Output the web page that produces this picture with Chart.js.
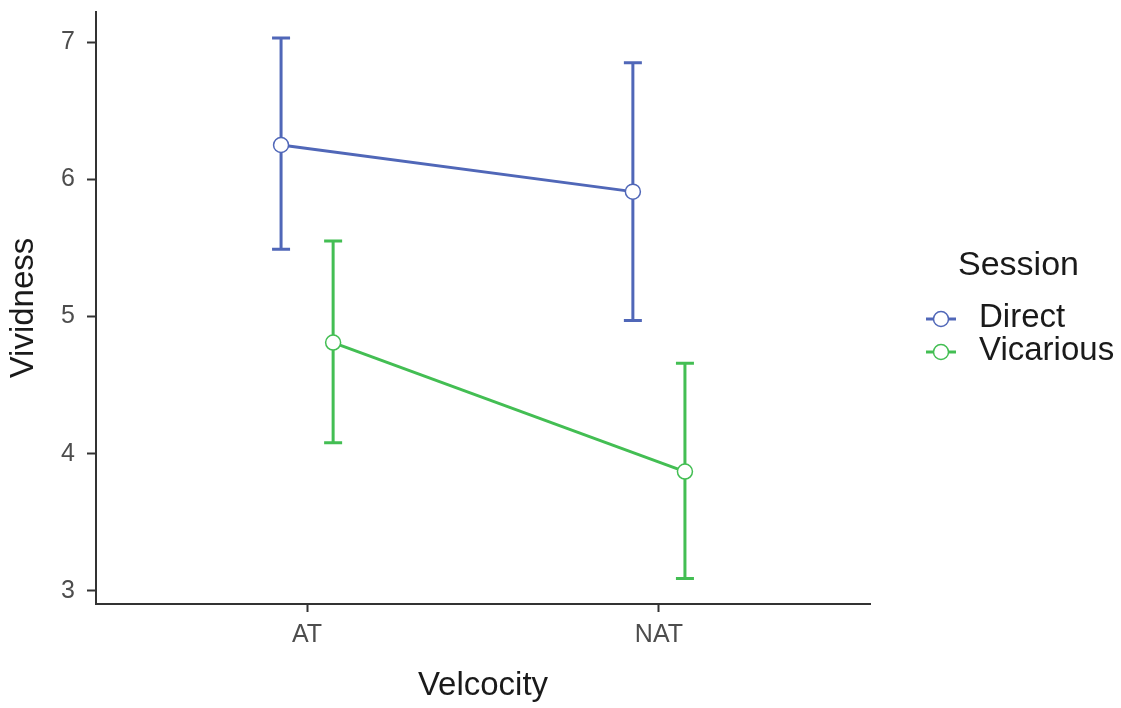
<!DOCTYPE html>
<html>
<head>
<meta charset="utf-8">
<script src="https://cdn.jsdelivr.net/npm/chart.js@4.4.1/dist/chart.umd.min.js"></script>
<style>
  html, body { margin: 0; padding: 0; background: #fff; }
</style>
</head>
<body>
<canvas id="chart" width="1121" height="708"></canvas>
<script>
// data
var categories = ['AT', 'NAT'];
var sessions = ['Direct', 'Vicarious'];
var directMean = [6.25, 5.91];
var directLow = [5.49, 4.97];
var directHigh = [7.03, 6.85];
var vicariousMean = [4.81, 3.87];
var vicariousLow = [4.08, 3.09];
var vicariousHigh = [5.55, 4.66];
var yTicks = [3, 4, 5, 6, 7];

var dodge = [-0.074, 0.074];
var colors = ['#5067b8', '#43be53'];
var axisColor = '#333333';
var font = '"Liberation Sans", Arial, sans-serif';

function points(mean, low, high, s) {
    return mean.map(function(m, i) {
        return { x: i + 1 + dodge[s], y: m, low: low[i], high: high[i] };
    });
}

var seriesData = [
    points(directMean, directLow, directHigh, 0),
    points(vicariousMean, vicariousLow, vicariousHigh, 1)
];

var errorBars = {
    id: 'errorBars',
    beforeDatasetsDraw: function(chart) {
        var ctx = chart.ctx, xs = chart.scales.x, ys = chart.scales.y;
        chart.data.datasets.forEach(function(ds) {
            ctx.save();
            ctx.strokeStyle = ds.borderColor;
            ctx.lineWidth = 3;
            ds.data.forEach(function(p) {
                var px = xs.getPixelForValue(p.x);
                var y1 = ys.getPixelForValue(p.low);
                var y2 = ys.getPixelForValue(p.high);
                ctx.beginPath();
                ctx.moveTo(px, y1); ctx.lineTo(px, y2);
                ctx.moveTo(px - 9, y1); ctx.lineTo(px + 9, y1);
                ctx.moveTo(px - 9, y2); ctx.lineTo(px + 9, y2);
                ctx.stroke();
            });
            ctx.restore();
        });
    }
};

var sideLegend = {
    id: 'sideLegend',
    afterDraw: function(chart) {
        var ctx = chart.ctx;
        ctx.save();
        ctx.fillStyle = '#1a1a1a';
        ctx.textAlign = 'left';
        ctx.textBaseline = 'alphabetic';
        ctx.font = '34px ' + font;
        ctx.fillText('Session', 958, 275);
        ctx.font = '33px ' + font;
        chart.data.datasets.forEach(function(ds, i) {
            var ky = 319 + i * 33;
            ctx.strokeStyle = ds.borderColor;
            ctx.lineWidth = 3;
            ctx.beginPath();
            ctx.moveTo(926, ky); ctx.lineTo(956, ky);
            ctx.stroke();
            ctx.beginPath();
            ctx.arc(941, ky, 7.5, 0, Math.PI * 2);
            ctx.fillStyle = '#fff';
            ctx.fill();
            ctx.lineWidth = 1.5;
            ctx.stroke();
            ctx.fillStyle = '#1a1a1a';
            ctx.fillText(ds.label, 979, ky + 7.5);
        });
        ctx.restore();
    }
};

var chart = new Chart(document.getElementById('chart'), {
    type: 'line',
    data: {
        datasets: sessions.map(function(name, s) {
            return {
                label: name,
                data: seriesData[s],
                borderColor: colors[s],
                borderWidth: 3,
                pointRadius: 7.5,
                pointBorderWidth: 1.5,
                pointBackgroundColor: '#ffffff',
                pointBorderColor: colors[s],
                tension: 0,
                clip: false
            };
        })
    },
    options: {
        responsive: false,
        animation: false,
        devicePixelRatio: 1,
        layout: { padding: { top: 12, right: 251, left: 0, bottom: 0 } },
        plugins: { legend: { display: false }, tooltip: { enabled: false } },
        scales: {
            x: {
                type: 'linear',
                min: 0.4,
                max: 2.6,
                afterBuildTicks: function(scale) {
                    scale.ticks = categories.map(function(c, i) { return { value: i + 1 }; });
                },
                afterFit: function(scale) {
                    scale.height = 104;
                    scale.paddingLeft = 0; scale.paddingRight = 0;
                },
                ticks: {
                    callback: function(v) { return categories[v - 1]; },
                    font: { family: font, size: 25 },
                    color: '#4d4d4d',
                    padding: 8,
                    maxRotation: 0
                },
                grid: { drawOnChartArea: false, tickLength: 8, tickColor: axisColor, tickWidth: 2 },
                border: { color: axisColor, width: 2 },
                title: {
                    display: true, text: 'Velcocity',
                    font: { family: font, size: 33 }, color: '#1a1a1a',
                    padding: { top: 0, bottom: 2 }
                }
            },
            y: {
                min: 2.905,
                max: 7.219,
                afterBuildTicks: function(scale) {
                    scale.ticks = yTicks.map(function(v) { return { value: v }; });
                },
                afterFit: function(scale) {
                    scale.width = 96;
                    scale.paddingTop = 0; scale.paddingBottom = 0;
                },
                ticks: {
                    font: { family: font, size: 25 },
                    color: '#4d4d4d',
                    padding: 12
                },
                grid: { drawOnChartArea: false, tickLength: 9, tickColor: axisColor, tickWidth: 2 },
                border: { color: axisColor, width: 2 },
                title: {
                    display: true, text: 'Vividness',
                    font: { family: font, size: 33 }, color: '#1a1a1a',
                    padding: { top: 4, bottom: 0 }
                }
            }
        }
    },
    plugins: [errorBars, sideLegend]
});
</script>
</body>
</html>
